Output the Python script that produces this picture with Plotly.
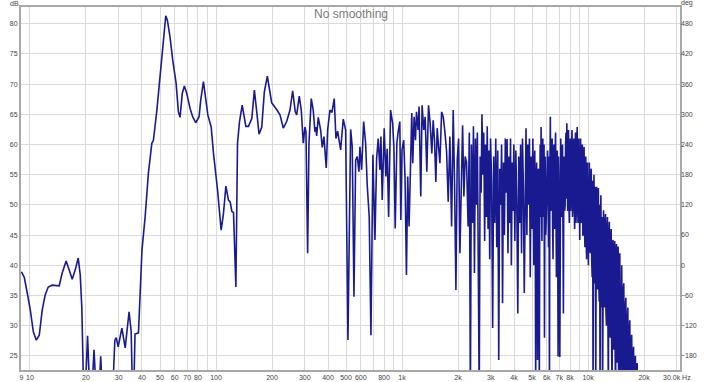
import math
import plotly.graph_objects as go

# ---------------- data ----------------
# Low frequencies 9 Hz - 300 Hz
freq_lf = [9.0, 9.32, 9.67, 10.04, 10.42, 10.81, 11.22, 11.64, 12.08, 12.54,
           13.17, 13.84, 14.36, 14.9, 15.65, 16.25, 16.87, 17.5, 18.17, 18.63,
           19.0, 19.4, 19.9, 20.4, 20.9, 21.6, 22.1, 22.6, 23.6, 24.0,
           24.4, 27.6, 28.1, 28.6, 29.1, 29.8, 31.2, 32.5, 34.1, 35.0,
           35.5, 36.2, 36.7, 38.3, 40.0, 41.6, 43.3, 45.2, 46.1, 48.1,
           50.1, 51.5, 53.7, 54.8, 56.6, 58.5, 61.0, 62.8, 64.1, 65.9,
           67.6, 69.6, 72.5, 74.9, 77.8, 81.1, 82.8, 85.6, 88.2, 90.4,
           94.2, 96.9, 101.9, 106.6, 109.7, 113.0, 116.7, 119.2, 121.7, 124.2,
           127.9, 130.5, 133.8, 138.3, 144.7, 149.4, 155.8, 160.8, 165.6, 170.4,
           176.2, 181.9, 188.8, 193.5, 199.3, 211.9, 220.8, 230.0, 239.8, 249.9,
           258.3, 266.8, 271.4, 280.3, 287.3, 294.5]
db_lf = [38.9, 38.0, 35.4, 32.6, 29.0, 27.6, 28.4, 32.6, 35.1, 36.4,
         36.7, 36.7, 36.6, 38.7, 40.7, 39.2, 37.7, 39.2, 41.2, 38.4,
         33.0, 20, 20, 28.3, 20, 20, 26.0, 20, 20, 24.9,
         20, 20, 22, 27.6, 28.0, 26.5, 29.6, 26.3, 32.3, 29.0,
         20, 20, 28.6, 28.8, 42.5, 48.0, 55.2, 60.2, 60.7, 65.7,
         71.8, 75.6, 81.3, 80.6, 77.8, 74.0, 70.2, 65.4, 64.5, 68.5,
         69.7, 68.5, 66.0, 64.6, 63.6, 64.6, 67.4, 70.4, 67.4, 64.9,
         62.9, 58.6, 52.5, 45.8, 48.6, 53.1, 50.8, 50.5, 48.9, 48.7,
         36.4, 60.2, 63.8, 66.5, 63.0, 63.0, 64.3, 69.0, 65.4, 61.7,
         62.9, 68.7, 71.3, 69.0, 66.9, 65.8, 64.9, 62.7, 63.8, 65.7,
         68.9, 65.4, 64.9, 68.0, 65.7, 60.2]

# Mid frequencies 300 Hz - 2.3 kHz
freq_mf = [300.7, 304.5, 310.9, 316.0, 325.1, 333.2, 340.3, 344.5, 347.5, 354.5,
           365.2, 372.4, 380.4, 391.4, 398.2, 409.7, 420.0, 432.1, 441.3, 450.7,
           467.7, 483.1, 497.6, 512.0, 529.4, 540.0, 551.5, 563.2, 574.5, 586.7,
           594.0, 606.6, 621.8, 637.3, 650.0, 666.3, 680.5, 697.5, 715.0, 730.2,
           744.7, 760.5, 770, 782.5, 802, 819, 832, 847, 868, 890,
           904, 919, 938, 953, 973, 985, 1000, 1021, 1038, 1056,
           1073, 1091, 1110, 1128, 1142, 1161, 1181, 1196, 1220, 1235,
           1261, 1282, 1309, 1331, 1359, 1388, 1416, 1446, 1470, 1495,
           1520, 1545, 1572, 1598, 1632, 1665, 1700, 1736, 1771, 1808,
           1847, 1884, 1917, 1948, 1980, 2014, 2047, 2080, 2116, 2150,
           2185, 2222, 2266]
db_mf = [62.9, 62.1, 42.0, 60.2, 67.6, 65.7, 62.1, 62.9, 61.4, 64.5,
         62.4, 59.5, 61.3, 56.1, 62.4, 65.7, 65.3, 67.6, 61.0, 62.2,
         59.1, 64.2, 62.4, 27.6, 62.5, 59.6, 34.8, 57.4, 58.0, 55.5,
         59.6, 55.8, 63.8, 60.2, 53.3, 48.0, 28.4, 58.3, 44.2, 57.7,
         61.0, 55.8, 61.3, 50.8, 62.7, 54.7, 59.3, 48.0, 65.7, 63.5,
         59.6, 46.1, 60.2, 62.1, 63.8, 47.5, 59.1, 60.7, 54.4, 38.4,
         54.7, 46.4, 55.2, 65.2, 56.9, 64.6, 60.7, 65.4, 62.4, 66.3,
         51.4, 66.5, 62.4, 64.6, 55.5, 66.5, 63.5, 58.5, 64.0, 60.7,
         53.8, 62.7, 59.6, 56.9, 65.4, 64.6, 62.1, 58.8, 50.5, 61.3,
         46.4, 65.7, 53.0, 35.9, 57.4, 61.0, 42.0, 53.8, 63.2, 51.4,
         58.0, 57.1, 46.4]

# High frequencies 2.3 kHz - 5 kHz
freq_hf1 = [2300, 2330, 2360, 2390, 2420, 2450, 2480, 2510, 2540, 2570,
            2600, 2630, 2660, 2690, 2720, 2750, 2780, 2810, 2840, 2870,
            2900, 2930, 2960, 2990,
            3030, 3070, 3110, 3150, 3190, 3230, 3270, 3310, 3350, 3390,
            3430, 3470, 3510, 3550, 3590, 3630, 3670, 3710, 3750, 3790,
            3830, 3870, 3910, 3950, 3990,
            4040, 4090, 4140, 4190, 4240, 4290, 4340, 4390, 4440, 4490,
            4540, 4590, 4640, 4690, 4740, 4790, 4840, 4890, 4940, 4990]
db_hf1 = [62, 18, 60, 47, 63, 38.7, 61, 50, 62, 45,
          18, 58, 52, 65, 55, 62, 44, 60, 48, 63,
          46, 59, 41, 61,
          54, 29.6, 58, 47, 61, 43, 59, 24.3, 56, 50,
          60, 33.7, 57, 45, 61, 52, 60.9, 42, 58, 47,
          61, 40, 57, 49, 60,
          44, 59, 50, 32, 58, 47, 60, 42, 61, 53,
          35.4, 58, 62.7, 45, 60, 50, 61, 38, 58, 46]

# High frequencies 5 kHz - 10 kHz
freq_hf2 = [5050, 5080, 5110, 5140, 5170, 5200, 5230, 5260, 5290, 5320,
            5350, 5380, 5410, 5440, 5470, 5500, 5530, 5560, 5590, 5620,
            5650, 5680, 5710, 5740, 5770, 5800, 5830, 5860, 5890, 5920, 5950,
            6060, 6095, 6130, 6165, 6200, 6235, 6270, 6305, 6340, 6375,
            6410, 6445, 6480, 6515, 6550, 6585, 6620, 6655, 6690, 6725,
            6760, 6795, 6830, 6865, 6900, 6935, 6970,
            7050, 7090, 7130, 7170, 7210, 7250, 7290, 7330, 7370, 7410,
            7450, 7490, 7530, 7570, 7610, 7650, 7690, 7730, 7770, 7810,
            7850, 7890, 7930,
            8020, 8065, 8110, 8155, 8200, 8245, 8290, 8335, 8380, 8425,
            8470, 8515, 8560, 8605, 8650, 8695, 8740, 8785, 8830, 8875, 8920,
            9020, 9070, 9120, 9170, 9220, 9270, 9320, 9370, 9420, 9470,
            9520, 9570, 9620, 9670, 9720, 9770, 9820, 9870, 9920]
db_hf2 = [61, 50, 40, 56, 59, 47, 18, 52, 57, 49,
          24.3, 55, 56, 46, 18, 53, 60, 48, 62.9, 51,
          44, 57, 61, 50, 48, 60, 28, 52, 58, 45, 47,
          59, 50, 43, 58, 18, 55, 64.6, 49, 50, 60,
          61, 47, 41, 56, 60, 52, 46, 59, 62, 48,
          38, 55, 59, 47, 24.9, 58, 55,
          24.8, 56, 61, 50, 48, 59, 60, 46, 32, 57,
          58, 49, 50, 60, 62, 51, 63.5, 55, 49, 60,
          62.4, 50, 47,
          61, 49, 52, 60, 62.4, 48, 50, 59, 61, 50,
          46, 58, 62, 47, 49, 60, 62.9, 51, 47, 58, 61,
          44.2, 56, 61, 47, 48, 59, 60, 45, 45, 57,
          59.6, 46, 43, 56, 58, 44, 41, 55, 57]

# High frequencies 10 kHz - 20 kHz
freq_hf3 = [10040, 10100, 10160, 10220, 10280, 10340, 10400, 10460, 10520, 10580,
            10640, 10700, 10760, 10820, 10880, 10940, 11000, 11060, 11120, 11180,
            11240, 11300, 11360, 11420, 11480, 11540, 11600, 11660, 11720, 11780,
            11840, 11900, 11960,
            12110, 12185, 12260, 12335, 12410, 12485, 12560, 12635, 12710, 12785,
            12860, 12935, 13010, 13085, 13160, 13235, 13310, 13385, 13460, 13535,
            13610, 13685, 13760, 13835, 13910, 13985, 14060, 14135, 14210, 14285,
            14360, 14435, 14510, 14585, 14660, 14735, 14810, 14885, 14960,
            15160, 15260, 15360, 15460, 15560, 15660, 15760, 15860, 15960, 16060,
            16160, 16260, 16360, 16460, 16560, 16660, 16760, 16860, 16960, 17060,
            17160, 17260, 17360, 17460, 17560, 17660, 17760, 17860, 17960, 18060,
            18160, 18260, 18360, 18460, 18560, 19000, 20000]
db_hf3 = [40, 54, 57, 43, 42, 55, 56, 41, 38, 54,
          18, 50, 55, 40, 37, 53, 18, 48, 53, 38,
          36, 51, 52.8, 37, 34, 50, 18, 47, 51.6, 35,
          33, 48, 18,
          49.1, 36, 33, 47, 48.5, 32, 30, 46, 48, 31,
          18, 45, 47.2, 30, 28, 44, 46, 28, 18, 43,
          44.2, 27, 26, 42, 44, 25, 18, 41, 43.5, 24,
          24, 40, 43.1, 22, 18, 39, 42, 20, 18,
          40, 24, 18, 36, 37, 22, 18, 33, 34.6, 21,
          18, 31, 33, 20, 18, 29, 30.9, 19, 18, 27,
          28.5, 18, 18, 25, 26.5, 18, 18, 24, 25, 18,
          18, 23, 23.8, 18, 18, 15, 12]

x_tick_vals = [9, 10, 20, 30, 40, 50, 60, 70, 80, 90, 100, 200, 300, 400, 500,
               600, 700, 800, 900, 1000, 2000, 3000, 4000, 5000, 6000, 7000,
               8000, 9000, 10000, 20000, 30000]
x_tick_text = ['9', '10', '20', '30', '40', '50', '60', '70', '80', '', '100',
               '200', '300', '400', '500', '600', '', '800', '', '1k', '2k',
               '3k', '4k', '5k', '6k', '7k', '8k', '', '10k', '20k', '30.0k Hz']
db_ticks = [25, 30, 35, 40, 45, 50, 55, 60, 65, 70, 75, 80]
deg_ticks = [-180, -120, -60, 0, 60, 120, 180, 240, 300, 360, 420, 480]

# ---------------- figure ----------------
freq = freq_lf + freq_mf + freq_hf1 + freq_hf2 + freq_hf3
db = db_lf + db_mf + db_hf1 + db_hf2 + db_hf3
assert len(freq) == len(db)

fig = go.Figure()
fig.add_trace(go.Scatter(x=freq, y=db, mode='lines',
                         line=dict(color='#1a1a90', width=1.6),
                         showlegend=False, hoverinfo='skip'))
# empty trace so the phase (deg) axis is drawn
fig.add_trace(go.Scatter(x=[], y=[], yaxis='y2', mode='lines',
                         showlegend=False, hoverinfo='skip'))

tick_font = dict(family='Liberation Sans, Arial, sans-serif', size=7, color='#444444')
frame = dict(showline=True, linecolor='#a8a8a8', linewidth=2, mirror=True)

fig.update_layout(
    width=705, height=382,
    margin=dict(l=21, r=25, t=7, b=12, pad=0),
    paper_bgcolor='white', plot_bgcolor='white',
    xaxis=dict(type='log', range=[math.log10(8.95), math.log10(31200)],
               tickmode='array', tickvals=x_tick_vals, ticktext=x_tick_text,
               showgrid=True, gridcolor='#dadada', gridwidth=1, zeroline=False,
               ticks='', tickfont=tick_font, automargin=False, **frame),
    yaxis=dict(range=[22.65, 82.77], tickmode='array', tickvals=db_ticks,
               showgrid=True, gridcolor='#dadada', gridwidth=1, zeroline=False,
               ticks='', tickfont=tick_font, automargin=False, **frame),
    yaxis2=dict(overlaying='y', side='right', range=[-208.2, 513.2],
                tickmode='array', tickvals=deg_ticks, showgrid=False,
                zeroline=False, ticks='', tickfont=tick_font, automargin=False),
    annotations=[
        dict(text='No smoothing', xref='paper', yref='paper', x=0.5, y=0.981,
             xanchor='center', yanchor='middle', showarrow=False,
             font=dict(family='Liberation Sans, Arial, sans-serif', size=12, color='#7a7a7a')),
        dict(text='dB', xref='paper', yref='paper', x=-0.0099, y=1.011,
             xanchor='center', yanchor='middle', showarrow=False, font=tick_font),
        dict(text='deg', xref='paper', yref='paper', x=1.0105, y=1.011,
             xanchor='center', yanchor='middle', showarrow=False, font=tick_font),
    ],
)

fig.write_html('out.html', config={'displayModeBar': False},
               post_script="document.body.style.margin='0';document.body.style.overflow='hidden';")
